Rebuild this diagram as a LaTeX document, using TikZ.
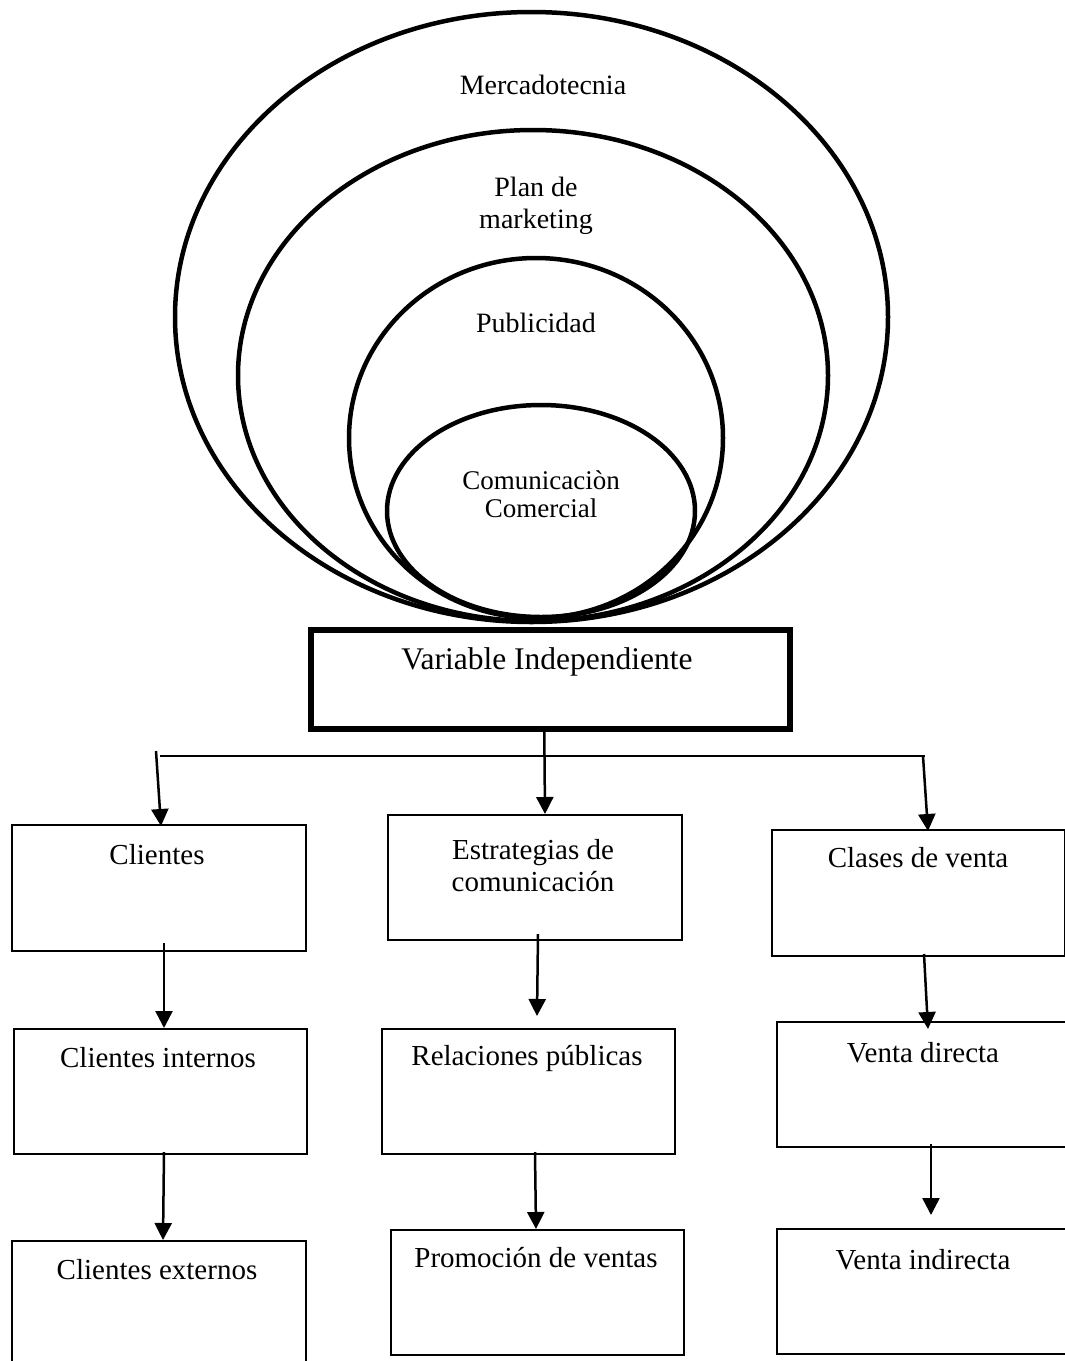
\documentclass[tikz,border=0pt]{standalone}
\usepackage{fontspec}
\setmainfont{Liberation Serif}
\usetikzlibrary{arrows.meta,calc}
\begin{document}
\begin{tikzpicture}[x=1pt,y=-1pt,
  ring/.style={draw,line width=4.5pt},
  stepbox/.style={draw,line width=2pt,rectangle,inner sep=0pt,anchor=north west},
  mainbox/.style={draw,line width=5.5pt,rectangle,inner sep=0pt,anchor=north west},
  lbl/.style={inner sep=0pt,align=center,font=\fontsize{29}{32}\selectfont},
  inlbl/.style={inner sep=0pt,align=center,font=\fontsize{28}{32}\selectfont},
  link/.style={line width=2.5pt,-{Triangle[length=17pt,width=17pt]}},
  bar/.style={line width=2pt}]
\useasboundingbox (0,0) rectangle (1065,1361);
\clip (0,0) rectangle (1065,1361);
\fill[white] (0,0) rectangle (1065,1361);

% nested ellipses
\draw[ring] (531.5,317) ellipse [x radius=356.5,y radius=305];
\draw[ring] (533,375.5) ellipse [x radius=295,y radius=245.5];
\draw[ring] (536,438) ellipse [x radius=187,y radius=180];
\draw[ring] (541,511) ellipse [x radius=154,y radius=106];

\node[inlbl] (t1) at (543,85) {Mercadotecnia};
\node[inlbl] (t2) at (536,206) {Plan de\\marketing};
\node[inlbl] (t3) at (536,323) {Publicidad};
\node[inlbl,font=\fontsize{27}{28}\selectfont] (t4) at (541,494) {Comunicaciòn\\Comercial};

% central box
\node[mainbox,minimum width=479,minimum height=99] (vi) at (308,627) {};
\node[inlbl,font=\fontsize{31.5}{34}\selectfont] (vit) at (547,662) {Variable Independiente};

% first row
\node[stepbox,minimum width=294,minimum height=126] (cl) at (11,824) {};
\node[lbl] (clt) at (157,855) {Clientes};
\node[stepbox,minimum width=294,minimum height=125] (es) at (387,814) {};
\node[lbl] (est) at (533,866) {Estrategias de\\comunicación};
\node[stepbox,minimum width=293,minimum height=126] (cv) at (771,829) {};
\node[lbl] (cvt) at (918,858) {Clases de venta};

% second row
\node[stepbox,minimum width=293,minimum height=125] (ci) at (13,1028) {};
\node[lbl] (cit) at (158,1058) {Clientes internos};
\node[stepbox,minimum width=293,minimum height=125] (rp) at (381,1028) {};
\node[lbl] (rpt) at (527,1058) {Relaciones públicas};
\node[stepbox,minimum width=310,minimum height=125] (vd) at (776,1021) {};
\node[lbl] (vdt) at (923,1053) {Venta directa};

% third row
\node[stepbox,minimum width=294,minimum height=150] (ce) at (11,1240) {};
\node[lbl] (cet) at (157,1270) {Clientes externos};
\node[stepbox,minimum width=293,minimum height=125] (pv) at (390,1229) {};
\node[lbl] (pvt) at (536,1258) {Promoción de ventas};
\node[stepbox,minimum width=310,minimum height=125] (vn) at (776,1228) {};
\node[lbl] (vnt) at (923,1260) {Venta indirecta};

% branching bar
\coordinate (hl) at (160,756);
\coordinate (hr) at (925,756);
\coordinate (la) at (156,751);
\coordinate (ra) at (923,756);
\draw[bar] (hl) -- (hr);
\draw[link] (la) -- ([xshift=2pt,yshift=-2pt]cl.north);
\draw[link] ([xshift=-6pt,yshift=3pt]vi.south) -- ([xshift=10pt]es.north);
\draw[link] (ra) -- ([xshift=9.5pt,yshift=-2pt]cv.north);

% column links
\draw[link] ([xshift=5pt,yshift=9pt]cl.south) -- ([xshift=3.5pt]ci.north);
\draw[link] ([xshift=3pt,yshift=7pt]es.south) -- ([xshift=8.5pt,yshift=12pt]rp.north);
\draw[link] ([xshift=5.5pt,yshift=3pt]cv.south) -- ([xshift=-4pt,yshift=-8pt]vd.north);
\draw[link] ([xshift=3.5pt,yshift=3pt]ci.south) -- ([xshift=4pt]ce.north);
\draw[link] ([xshift=6.5pt,yshift=3pt]rp.south) -- ([xshift=-1.5pt]pv.north);
\draw[link] ([xshift=-1pt,yshift=4pt]vd.south) -- ([xshift=-1pt,yshift=13pt]vn.north);
\end{tikzpicture}
\end{document}
